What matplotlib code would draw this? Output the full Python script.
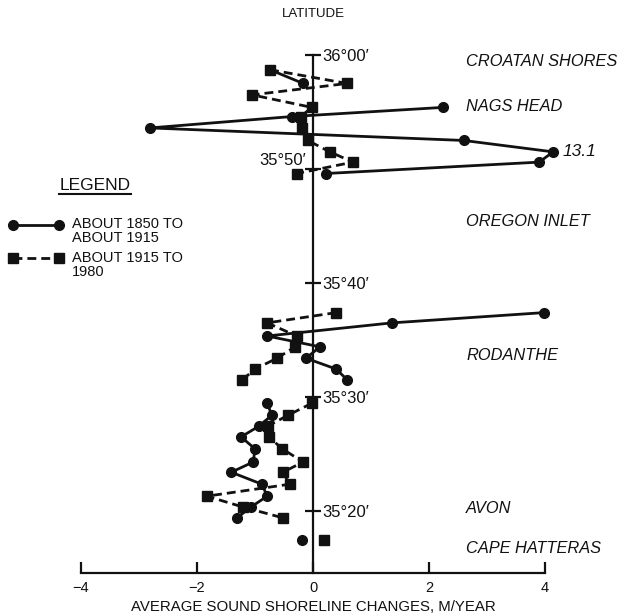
import numpy as np
import matplotlib
matplotlib.use("Agg")
import matplotlib.pyplot as plt

plt.rcParams["font.family"] = ["Liberation Sans", "DejaVu Sans"]

# Station latitudes, in minutes north of 35°00' (NaN = no station / gap)
station_lat = [
    58.7, 57.5, 56.5, 55.4, 54.6, 53.6, 52.5, 51.5, 50.6, 49.6,          # Nags Head
    np.nan,                                                              # Oregon Inlet
    37.4, 36.5, 35.35, 34.4, 33.4, 32.45, 31.5,                          # Rodanthe
    np.nan,
    29.45, 28.4, 27.45, 26.5, 25.45, 24.3, 23.4, 22.35, 21.3, 20.35, 19.4,  # Avon
    np.nan,
    17.45,                                                               # Cape Hatteras
]

# Average sound shoreline change, m/yr, about 1850 to about 1915
change_1850_1915 = [
    -0.74, -0.17, np.nan, 2.24, -0.36, -2.81, 2.60, 13.1, 3.90, 0.22,
    np.nan,
    3.98, 1.36, -0.79, 0.12, -0.12, 0.40, 0.59,
    np.nan,
    -0.79, -0.71, -0.93, -1.24, -1.00, -1.03, -1.41, -0.88, -0.79, -1.07, -1.31,
    np.nan,
    -0.19,
]

# Average sound shoreline change, m/yr, about 1915 to 1980
change_1915_1980 = [
    -0.74, 0.59, -1.05, -0.02, -0.21, -0.19, -0.09, 0.29, 0.69, -0.28,
    np.nan,
    0.40, -0.79, -0.28, -0.31, -0.62, -1.00, -1.22,
    np.nan,
    -0.02, -0.43, -0.78, -0.76, -0.53, -0.17, -0.52, -0.40, -1.83, -1.21, -0.52,
    np.nan,
    0.19,
]

x_ticks = [-4, -2, 0, 2, 4]
x_tick_labels = ["\u22124", "\u22122", "0", "2", "4"]

lat_ticks = [60, 50, 40, 30, 20]
lat_tick_labels = ["36°00\u2032", "35°50\u2032", "35°40\u2032", "35°30\u2032", "35°20\u2032"]

places = ["CROATAN SHORES", "NAGS HEAD", "OREGON INLET", "RODANTHE", "AVON", "CAPE HATTERAS"]
place_lat = [59.4, 55.45, 45.35, 33.6, 20.25, 16.75]

legend_labels = ["ABOUT 1850 TO\nABOUT 1915", "ABOUT 1915 TO\n1980"]

# ---------------------------------------------------------------------------
X_BREAK = 4.14      # values beyond this are drawn at the edge and labelled
AXIS_LAT = 14.56    # latitude where the horizontal axis is drawn
INK = "#111111"
DASH = (0, (3.2, 1.8))

fig = plt.figure(figsize=(6.27, 6.16), dpi=100)
ax = fig.add_axes([0, 0, 1, 1])
ax.set_xlim(-5.397, 5.414)
ax.set_ylim(10.79, 64.82)
ax.patch.set_alpha(0)

for side in ("top", "right"):
    ax.spines[side].set_visible(False)
ax.spines["bottom"].set_position(("data", AXIS_LAT))
ax.spines["bottom"].set_bounds(-4, 4)
ax.spines["left"].set_position(("data", 0))
ax.spines["left"].set_bounds(AXIS_LAT, 60)
for side in ("bottom", "left"):
    ax.spines[side].set_linewidth(1.6)
    ax.spines[side].set_color(INK)

ax.set_xticks(x_ticks)
ax.set_xticklabels(x_tick_labels)
ax.tick_params(axis="x", direction="in", length=8, width=1.6, pad=6,
               labelsize=10.5, colors=INK)
ax.set_yticks(lat_ticks)
ax.tick_params(axis="y", direction="inout", length=11, width=1.6,
               labelleft=False, colors=INK)

# latitude labels beside the vertical axis
for lat, lab in zip(lat_ticks, lat_tick_labels):
    if lat == 50:
        ax.text(-0.12, lat + 0.7, lab, ha="right", va="center", fontsize=12, color=INK)
    else:
        ax.text(0.16, lat - 0.1, lab, ha="left", va="center", fontsize=12, color=INK)

early = np.array(change_1850_1915, dtype=float)
late = np.array(change_1915_1980, dtype=float)
lat = np.array(station_lat, dtype=float)
early_shown = np.minimum(early, X_BREAK)

ax.plot(early_shown, lat, color=INK, lw=2.0, marker="o", ms=7,
        solid_capstyle="round", zorder=3)
ax.plot(late, lat, color=INK, lw=2.0, linestyle=DASH,
        marker="s", ms=6.5, zorder=4)

# values beyond the break are labelled with their true value
for xv, xs, yv in zip(early, early_shown, lat):
    if np.isfinite(xv) and xv > X_BREAK:
        ax.text(xs + 0.16, yv, f"{xv:.1f}", ha="left", va="center",
                fontsize=12.5, style="italic", color=INK)

for name, plat in zip(places, place_lat):
    ax.text(2.64, plat, name, ha="left", va="center", fontsize=11.8,
            style="italic", color=INK)

fig.text(313 / 627, 1 - 14 / 616, "LATITUDE", ha="center", va="center",
         fontsize=9.5, color=INK)
fig.text(313 / 627, 1 - 607 / 616, "AVERAGE SOUND SHORELINE CHANGES, M/YEAR",
         ha="center", va="center", fontsize=10.8, color=INK)

# legend block, laid out in pixel coordinates
lg = fig.add_axes([0, 0, 1, 1])
lg.set_xlim(0, 627)
lg.set_ylim(616, 0)
lg.axis("off")
lg.patch.set_alpha(0)
lg.text(95, 185, "LEGEND", ha="center", va="center", fontsize=12.5, color=INK)
lg.plot([59, 131], [194, 194], color=INK, lw=1.5)
lg.plot([12.7, 59], [225, 225], color=INK, lw=2.0, marker="o", ms=7)
lg.plot([12.7, 59], [258, 258], color=INK, lw=2.0, linestyle=DASH,
        marker="s", ms=6.5)
lg.text(72, 231, legend_labels[0], ha="left", va="center", fontsize=10.5,
        color=INK, linespacing=1.05)
lg.text(72, 265, legend_labels[1], ha="left", va="center", fontsize=10.5,
        color=INK, linespacing=1.05)

fig.savefig("out.png", dpi=100, facecolor="white")
